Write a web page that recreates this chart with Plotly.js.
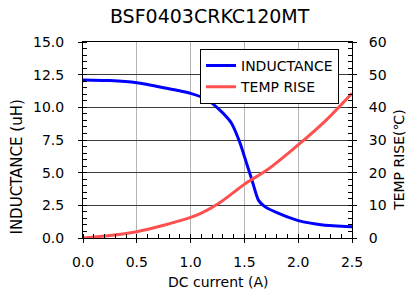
<!DOCTYPE html>
<html><head><meta charset="utf-8">
<script src="https://cdn.plot.ly/plotly-3.0.1.min.js"></script>
<style>html,body{margin:0;padding:0;background:#fff;overflow:hidden}#chart{width:411px;height:291px}</style>
</head><body><div id="chart"></div>
<script>
const chartTitle = "BSF0403CRKC120MT";
const currentL = [0, 0.25, 0.5, 0.75, 1.0, 1.15, 1.27, 1.38, 1.46, 1.52, 1.57, 1.63, 1.69, 1.83, 2.0, 2.23, 2.5];
const inductance = [12.1, 12.05, 11.88, 11.5, 11.07, 10.6, 9.8, 8.78, 7.25, 5.72, 4.44, 2.9, 2.4, 1.84, 1.33, 1.0, 0.87];
const currentT = [0, 0.25, 0.5, 0.75, 1.0, 1.1, 1.27, 1.51, 1.71, 2.0, 2.26, 2.5];
const tempRise = [0, 0.8, 1.94, 3.9, 6.3, 7.6, 10.8, 16.7, 20.8, 28.5, 36.1, 44.3];
const xTicks = [0, 0.5, 1.0, 1.5, 2.0, 2.5];

const F = "DejaVu Sans, sans-serif";
const traces = [
  {x: currentL, y: inductance, name: "INDUCTANCE", type: "scatter", mode: "lines",
   line: {color: "#0000ff", width: 3, shape: "spline", smoothing: 0.6}, yaxis: "y"},
  {x: currentT, y: tempRise, name: "TEMP RISE", type: "scatter", mode: "lines",
   line: {color: "#ff5050", width: 3, shape: "spline", smoothing: 0.8}, yaxis: "y2"}
];
const layout = {
  width: 411, height: 291,
  margin: {l: 83, r: 59, t: 42, b: 53},
  paper_bgcolor: "#fff", plot_bgcolor: "#fff",
  font: {family: F, size: 14, color: "#000"},
  title: {text: chartTitle, font: {family: F, size: 19, color: "#000"}, x: 0.51, xanchor: "center", y: 0.945, yanchor: "middle"},
  showlegend: true,
  legend: {x: 0.435, y: 0.965, xanchor: "left", yanchor: "top", bgcolor: "#fff", bordercolor: "#000", borderwidth: 1,
           font: {family: F, size: 14, color: "#000"}, itemwidth: 30, tracegroupgap: 0},
  xaxis: {range: [0, 2.5], tickvals: xTicks, tickformat: ".1f", ticks: "outside", ticklen: 4, tickcolor: "#000",
          showline: true, linecolor: "#000", linewidth: 1, mirror: true, showgrid: true, gridcolor: "#b4b4b4", gridwidth: 1,
          zeroline: false, ticklabelstandoff: 7,
          minor: {dtick: 0.1, ticks: "inside", ticklen: 4, tickcolor: "#000", showgrid: false},
          tickfont: {family: F, size: 14, color: "#000"}},
  yaxis: {range: [0, 15], dtick: 2.5, tick0: 0, tickformat: ".1f", ticks: "outside", ticklen: 4, tickcolor: "#000",
          showline: true, linecolor: "#000", linewidth: 1, showgrid: true, gridcolor: "#3c3c3c", gridwidth: 1,
          zeroline: false, ticklabelstandoff: 11,
          minor: {dtick: 0.5, ticks: "inside", ticklen: 4, tickcolor: "#000", showgrid: false},
          tickfont: {family: F, size: 14, color: "#000"}},
  yaxis2: {range: [0, 60], dtick: 10, tick0: 0, overlaying: "y", side: "right", ticks: "outside", ticklen: 4, tickcolor: "#000",
           showline: true, linecolor: "#000", linewidth: 1, showgrid: false, zeroline: false, ticklabelstandoff: 9,
           minor: {dtick: 2, ticks: "inside", ticklen: 4, tickcolor: "#000", showgrid: false},
           tickfont: {family: F, size: 14, color: "#000"}},
  annotations: [
    {text: "DC current (A)", xref: "paper", yref: "paper", x: 0.5, y: -0.225, xanchor: "center", yanchor: "middle",
     showarrow: false, font: {family: F, size: 14, color: "#000"}},
    {text: "INDUCTANCE (uH)", xref: "paper", yref: "paper", x: -0.245, y: 0.36, textangle: -90, xanchor: "center", yanchor: "middle",
     showarrow: false, font: {family: F, size: 15, color: "#000"}},
    {text: "TEMP RISE(℃)", xref: "paper", yref: "paper", x: 1.172, y: 0.4, textangle: -90, xanchor: "center", yanchor: "middle",
     showarrow: false, font: {family: F, size: 14, color: "#000"}}
  ]
};
Plotly.newPlot("chart", traces, layout, {displayModeBar: false, staticPlot: true});
</script></body></html>
